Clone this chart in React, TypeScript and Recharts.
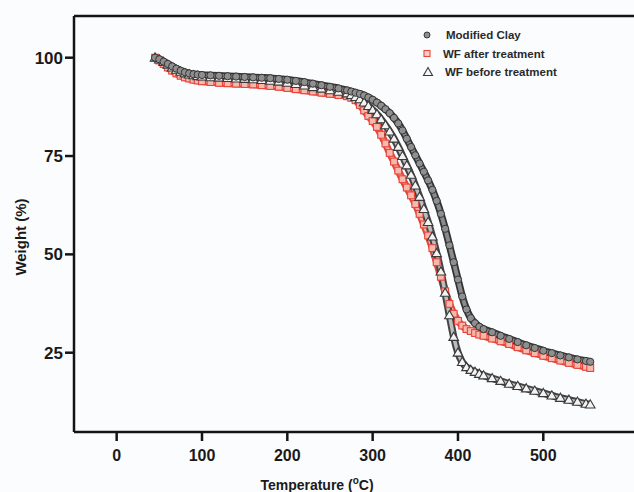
import React from 'react';
import { LineChart, Line, XAxis, YAxis, ReferenceLine, Label } from 'recharts';

// Temperature (°C) sampling points
const temperatures = [
  45, 50, 55, 60, 65, 70, 75, 80, 85, 90, 95, 100,
  110, 120, 130, 140, 150, 160, 170, 180, 190, 200, 210, 220, 230, 240, 250, 260,
  270,
  275, 280, 285, 290, 295, 300, 305, 310, 315, 320,
  325, 330, 335, 340, 345, 350, 355, 360, 365, 370,
  375, 380, 385, 390, 395, 400, 405, 410, 415, 420,
  425, 430,
  440, 450, 460, 470, 480, 490, 500, 510, 520, 530, 540, 550,
  555,
];

// Weight (%) – Modified Clay (circles)
const modifiedClay = [
  100.0, 99.6, 99.0, 98.4, 97.8, 97.2, 96.7, 96.3, 96.0, 95.8, 95.7, 95.6,
  95.5, 95.4, 95.3, 95.2, 95.1, 95.0, 94.9, 94.8, 94.6, 94.4, 94.1, 93.8, 93.4, 93.0, 92.6, 92.2,
  91.7,
  91.4, 91.1, 90.8, 90.4, 89.9, 89.3, 88.6, 87.8, 86.9, 85.9,
  84.7, 83.3, 81.5, 79.4, 77.3, 75.2, 73.1, 71.0, 68.8, 66.4,
  63.6, 60.3, 56.5, 52.3, 48.0, 43.6, 39.3, 36.0, 33.8, 32.5,
  31.6, 31.0,
  30.2, 29.3, 28.5, 27.7, 26.9, 26.2, 25.5, 24.9, 24.3, 23.8, 23.3, 22.9,
  22.7,
];

// Weight (%) – WF after treatment (squares)
const wfAfterTreatment = [
  100.0, 99.3, 98.4, 97.5, 96.7, 96.0, 95.4, 95.0, 94.7, 94.4, 94.2, 94.0,
  93.8, 93.6, 93.5, 93.4, 93.3, 93.2, 93.0, 92.8, 92.6, 92.3, 92.0, 91.7, 91.4, 91.1, 90.8, 90.5,
  90.2,
  89.8, 89.2, 88.0, 86.6, 85.2, 83.9, 82.4, 80.4, 78.2, 75.8,
  73.6, 71.3, 69.1, 67.0, 65.0, 62.8, 60.3, 57.6, 54.8, 51.6,
  48.0, 44.3, 40.6, 37.4, 34.9, 33.1, 31.9, 31.0, 30.5, 30.0,
  29.6, 29.3,
  28.6, 27.9, 27.2, 26.4, 25.6, 24.9, 24.2, 23.6, 23.0, 22.4, 21.9, 21.4,
  21.1,
];

// Weight (%) – WF before treatment (triangles)
const wfBeforeTreatment = [
  100.0, 99.5, 98.9, 98.2, 97.5, 96.9, 96.4, 96.0, 95.7, 95.5, 95.3, 95.2,
  95.0, 94.9, 94.8, 94.7, 94.6, 94.5, 94.3, 94.1, 93.9, 93.6, 93.3, 92.9, 92.5, 92.1, 91.7, 91.3,
  90.9,
  90.5, 90.0, 89.4, 88.6, 87.7, 86.7, 85.6, 84.3, 82.8, 81.2,
  79.4, 77.3, 75.0, 72.6, 70.2, 67.5, 64.6, 61.5, 58.2, 54.5,
  50.3, 45.6, 40.2, 34.5, 29.0, 25.0, 22.6, 21.3, 20.6, 20.1,
  19.6, 19.2,
  18.5, 17.8, 17.1, 16.5, 15.9, 15.3, 14.7, 14.1, 13.5, 13.0, 12.5, 12.0,
  11.8,
];

const seriesNames = ['Modified Clay', 'WF after treatment', 'WF before treatment'];
const xTicks = [0, 100, 200, 300, 400, 500];
const yTicks = [25, 50, 75, 100];
const xDomain: [number, number] = [-50, 606.3];
const yDomain: [number, number] = [4.84, 110.6];

const data = temperatures.map((t, i) => ({
  t,
  clay: modifiedClay[i],
  after: wfAfterTreatment[i],
  before: wfBeforeTreatment[i],
}));

const FONT = '"Liberation Sans", Arial, Helvetica, sans-serif';
const AXIS = '#141414';

const CircleDot = (props: any) => {
  const { cx, cy, index } = props;
  if (cx == null || cy == null) return <g key={index} />;
  return <circle key={index} cx={cx} cy={cy} r={3.6} fill="#8f8f8f" stroke="#363636" strokeWidth={1} />;
};
const SquareDot = (props: any) => {
  const { cx, cy, index } = props;
  if (cx == null || cy == null) return <g key={index} />;
  return (
    <rect key={index} x={cx - 3.4} y={cy - 3.4} width={6.8} height={6.8} fill="#f7b9ad" stroke="#e5453a" strokeWidth={1.1} />
  );
};
const TriangleDot = (props: any) => {
  const { cx, cy, index } = props;
  if (cx == null || cy == null) return <g key={index} />;
  return (
    <path
      key={index}
      d={`M${cx},${cy - 4.8}L${cx + 4.8},${cy + 3.4}L${cx - 4.8},${cy + 3.4}Z`}
      fill="#f3f3f3"
      stroke="#3a3a3a"
      strokeWidth={1.1}
    />
  );
};

const xTickStyle = { fontFamily: FONT, fontWeight: 700, fontSize: 16, fill: '#1a1a1a' };
const yTickStyle = { fontFamily: FONT, fontWeight: 700, fontSize: 17, fill: '#1a1a1a' };

export default function App() {
  return (
    <div style={{ position: 'absolute', left: 0, top: 0, width: 634, height: 492, background: '#fbfcfe', overflow: 'hidden' }}>
      <LineChart width={634} height={492} data={data} margin={{ top: 16, right: 0, bottom: 0, left: 0 }}>
        <XAxis
          dataKey="t"
          type="number"
          domain={xDomain}
          allowDataOverflow
          ticks={xTicks}
          height={60}
          tickSize={9}
          tickMargin={9}
          axisLine={{ stroke: AXIS, strokeWidth: 2.5 }}
          tickLine={{ stroke: AXIS, strokeWidth: 2.5 }}
          tick={xTickStyle}
        >
          <Label
            content={(p: any) => {
              const vb = p.viewBox || { x: 74, y: 432 };
              return (
                <text x={vb.x + 243} y={vb.y + 58} textAnchor="middle" fontFamily={FONT} fontWeight={700} fontSize={14} fill="#1a1a1a">
                  Temperature (<tspan dy={-6} fontSize={10}>o</tspan><tspan dy={6}>C)</tspan>
                </text>
              );
            }}
          />
        </XAxis>
        <YAxis
          type="number"
          domain={yDomain}
          allowDataOverflow
          ticks={yTicks}
          width={74}
          tickSize={9}
          tickMargin={2}
          axisLine={{ stroke: AXIS, strokeWidth: 2.5 }}
          tickLine={{ stroke: AXIS, strokeWidth: 2.5 }}
          tick={yTickStyle}
        >
          <Label
            content={() => (
              <text
                x={20}
                y={237}
                transform="rotate(-90, 20, 237)"
                textAnchor="middle"
                dominantBaseline="central"
                fontFamily={FONT}
                fontWeight={700}
                fontSize={15}
                fill="#1a1a1a"
              >
                Weight (%)
              </text>
            )}
          />
        </YAxis>
        <ReferenceLine y={yDomain[1]} stroke={AXIS} strokeWidth={2.5} />

        <Line dataKey="after" name={seriesNames[1]} type="monotone" stroke="#e5453a" strokeWidth={7.5} dot={false} isAnimationActive={false} legendType="none" />
        <Line dataKey="after" name={seriesNames[1]} type="monotone" stroke="#f7b0a2" strokeWidth={3.5} dot={SquareDot} isAnimationActive={false} />

        <Line dataKey="before" name={seriesNames[2]} type="monotone" stroke="#444" strokeWidth={7.5} dot={false} isAnimationActive={false} legendType="none" />
        <Line dataKey="before" name={seriesNames[2]} type="monotone" stroke="#bdbdbd" strokeWidth={3.5} dot={TriangleDot} isAnimationActive={false} />

        <Line dataKey="clay" name={seriesNames[0]} type="monotone" stroke="#333" strokeWidth={7.5} dot={false} isAnimationActive={false} legendType="none" />
        <Line dataKey="clay" name={seriesNames[0]} type="monotone" stroke="#8a8a8a" strokeWidth={4} dot={CircleDot} isAnimationActive={false} />
      </LineChart>

      <svg width={634} height={492} style={{ position: 'absolute', left: 0, top: 0, pointerEvents: 'none' }}>
        <circle cx={427} cy={35} r={3} fill="#8f8f8f" stroke="#363636" strokeWidth={1} />
        <rect x={424} y={50.5} width={6} height={6} fill="#f7d0c8" stroke="#e5453a" strokeWidth={1.1} />
        <path d="M428,67.5L432.5,75.5L423.5,75.5Z" fill="#f6f6f6" stroke="#3a3a3a" strokeWidth={1.1} />
        <text x={446} y={39} fontFamily={FONT} fontWeight={700} fontSize={11.5} fill="#2a2a2a">{seriesNames[0]}</text>
        <text x={443} y={57.5} fontFamily={FONT} fontWeight={700} fontSize={11.5} fill="#2a2a2a">{seriesNames[1]}</text>
        <text x={445} y={76} fontFamily={FONT} fontWeight={700} fontSize={11.5} fill="#2a2a2a">{seriesNames[2]}</text>
      </svg>
    </div>
  );
}
